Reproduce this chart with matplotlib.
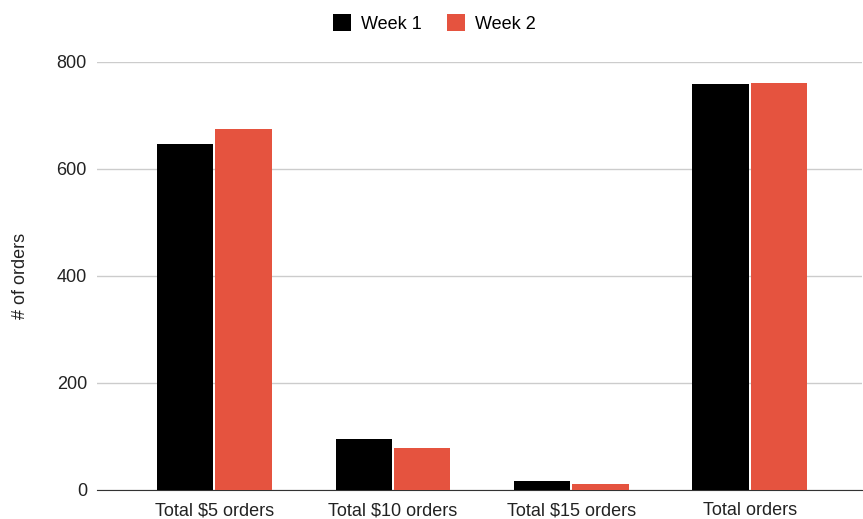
import numpy as np
import matplotlib.pyplot as plt

plt.rcParams['font.family'] = ['Liberation Sans', 'DejaVu Sans']

categories = ['Total $5 orders', 'Total $10 orders', 'Total $15 orders', 'Total orders']
week1 = [646, 95, 16, 759]
week2 = [674, 78, 12, 761]
yticks = [0, 200, 400, 600, 800]

fig = plt.figure(figsize=(8.63, 5.19), dpi=100)
ax = fig.add_axes([0.112, 0.056, 0.887, 0.825])

x = np.arange(len(categories))
w = 0.315
ax.bar(x - w/2 - 0.006, week1, w, color='#000000', label='Week 1', zorder=3)
ax.bar(x + w/2 + 0.006, week2, w, color='#e5533f', label='Week 2', zorder=3)

ax.set_xlim(-0.66, 3.63)
ax.set_ylim(0, 800)
ax.set_yticks(yticks)
ax.set_xticks(x)
ax.set_xticklabels(categories)
ax.yaxis.grid(True, color='#cccccc', linewidth=1, zorder=0)
for s in ['top', 'right', 'left']:
    ax.spines[s].set_visible(False)
ax.spines['bottom'].set_color('#333333')
ax.tick_params(axis='both', length=0, labelsize=13, colors='#222222')
ax.tick_params(axis='y', pad=7)
ax.tick_params(axis='x', pad=9)
ax.set_ylabel('# of orders', fontsize=13, color='#222222', labelpad=20)

ax.legend(loc='lower center', bbox_to_anchor=(0.441, 1.03), ncol=2, frameon=False,
          fontsize=13, handlelength=1.0, handleheight=1.0, columnspacing=1.4,
          handletextpad=0.55)

fig.savefig('out.png', dpi=100)
